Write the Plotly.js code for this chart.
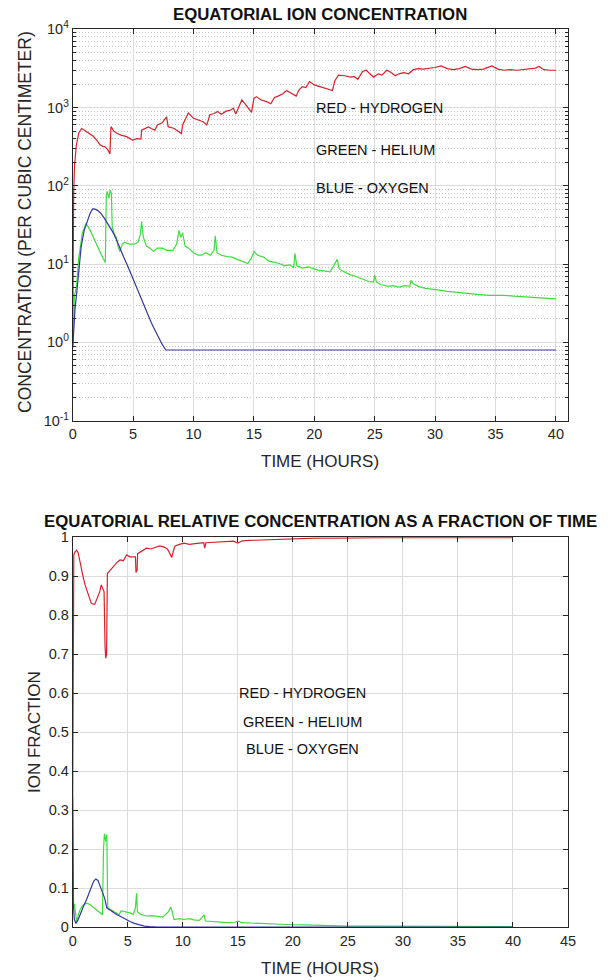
<!DOCTYPE html>
<html>
<head>
<meta charset="utf-8">
<script src="https://cdn.plot.ly/plotly-3.0.1.min.js"></script>
<style>
html,body{margin:0;padding:0;background:#fff;}
#chart{width:608px;height:980px;}
</style>
</head>
<body>
<div id="chart"></div>
<script>
// ---------- Top panel: ion concentration (per cubic centimeter) ----------
const hydrogenTime = [0,0.03,0.08,0.15,0.3,0.5,0.74,1.0,1.3,1.7,2.0,2.26,2.5,2.67,2.9,3.08,3.17,3.4,3.64,4.0,4.46,4.96,5.3,5.65,5.7,6.0,6.26,6.5,6.8,7.0,7.4,7.77,7.9,8.4,8.7,9.0,9.1,9.57,10.0,10.4,10.8,11.1,11.36,11.7,12.0,12.3,12.7,13.0,13.3,13.5,13.7,14.0,14.3,14.6,14.8,15.0,15.2,15.6,16.0,16.4,16.7,17.0,17.4,17.7,18.1,18.5,18.7,19.0,19.3,19.6,20.0,20.5,21.0,21.5,21.7,22.0,22.5,23.0,23.3,23.6,24.0,24.3,24.6,24.9,25.3,25.6,26.0,26.3,26.7,27.0,27.4,27.8,28.2,28.6,29.0,29.5,30.0,30.5,31.0,31.5,32.0,32.5,33.0,33.5,34.0,34.7,35.2,35.7,36.2,36.8,37.3,37.8,38.3,38.6,39.0,39.5,40.0];
const hydrogenConc = [1,20,80,180,330,470,540,510,470,430,380,335,320,316,290,255,570,500,470,445,425,385,400,395,515,540,565,540,515,600,640,760,570,540,500,465,600,850,730,690,660,600,810,840,890,820,900,920,980,830,1000,1250,1100,950,870,1300,1380,1250,1200,1120,1350,1400,1500,1650,1500,1400,1650,1850,1800,2150,1950,1850,1750,1650,2200,2600,2550,2450,2500,2300,2900,3000,2700,2450,2700,2600,3000,2850,2550,2700,2800,2700,3050,3150,3100,3150,3250,3400,3150,3050,3150,3350,3100,3050,3100,3400,3100,3000,3050,3000,3050,3100,3200,3350,3050,3000,3000];

const heliumTime = [0,0.05,0.15,0.3,0.5,0.8,1.1,1.4,1.8,2.2,2.5,2.7,2.78,2.85,3.0,3.1,3.2,3.27,3.45,3.6,3.75,3.9,4.1,4.3,4.7,5.1,5.4,5.6,5.7,5.85,6.1,6.4,6.7,7.0,7.4,7.8,8.3,8.6,8.8,8.95,9.1,9.3,9.6,10.0,10.4,10.7,11.0,11.4,11.7,11.8,11.95,12.3,12.8,13.2,13.6,14.0,14.5,14.8,15.0,15.3,15.8,16.2,16.7,17.1,17.5,18.0,18.3,18.4,18.55,19.0,19.5,20.0,20.3,20.8,21.3,21.6,21.9,22.05,22.2,22.6,23.0,23.5,24.0,24.5,24.9,25.0,25.15,25.5,26.1,26.5,27.0,27.5,27.9,28.0,28.2,28.6,29.2,29.8,30.2,31.0,31.5,32.5,33.5,34.5,35.7,36.5,37.5,38.5,39.3,40.0];
const heliumConc = [0.9,2,4,5,12,25,33,28,20,15,12,10.5,75,85,70,88,80,30,24,22,17,14.5,18,19,18,18,19,24,35,22,17,16,14.5,16,16,15,15,18,27,22,25,17,16,14,13,13,14,13,15,23,14,13,12.5,12.3,11.5,11,10.2,12,14.5,13,12.3,11,10.5,10.2,9.5,9.8,9.0,13.7,9.5,8.9,9.2,8.6,8.4,8.2,8.0,9.5,11.5,8.8,8.4,7.8,7.3,6.9,6.4,6.0,5.9,7.2,5.9,5.5,5.2,5.3,5.1,5.3,5.2,6.2,5.6,5.2,4.9,4.8,4.7,4.5,4.4,4.2,4.1,4.0,4.0,3.9,3.8,3.7,3.6,3.6];

const oxygenTime = [0,0.1,0.2,0.3,0.5,0.7,0.95,1.2,1.45,1.68,1.9,2.1,2.3,2.6,2.9,3.13,3.3,3.6,3.9,4.2,4.57,4.9,5.2,5.5,5.85,6.2,6.5,6.8,7.1,7.4,7.7,40];
const oxygenConc = [0.85,1.6,2.8,3.8,8,16.7,27,36,45,51,50,48,45,39,33,29,26,21,16,12.5,9.3,7,5.3,4.2,3.2,2.3,1.8,1.44,1.15,0.95,0.8,0.8];

// log-axis tick labels of the top panel
const concTickVals = [0.1, 1, 10, 100, 1000, 10000];
const concTickText = ['10<sup>-1</sup>', '10<sup>0</sup>', '10<sup>1</sup>', '10<sup>2</sup>', '10<sup>3</sup>', '10<sup>4</sup>'];

// ---------- Bottom panel: ion fraction ----------
const hFracTime = [0,0.03,0.1,0.2,0.36,0.5,0.67,0.9,1.1,1.27,1.5,1.7,2.0,2.24,2.45,2.6,2.7,2.85,2.94,3.0,3.08,3.15,3.4,3.7,4.0,4.3,4.6,4.9,5.2,5.5,5.7,5.75,5.85,5.9,6.3,6.7,7.1,7.5,7.9,8.3,8.6,8.8,9.0,9.15,9.3,9.7,10.1,10.6,11.0,11.5,11.9,12.0,12.1,12.7,13.3,14.0,14.6,15.0,15.4,16,17,18,19,20,21,22,24,26,28,30,35,40];
const hFrac = [0.33,0.90,0.955,0.962,0.967,0.96,0.94,0.905,0.88,0.865,0.845,0.83,0.828,0.843,0.86,0.878,0.868,0.86,0.72,0.69,0.70,0.907,0.915,0.925,0.935,0.942,0.94,0.955,0.95,0.95,0.95,0.91,0.915,0.958,0.965,0.972,0.97,0.975,0.978,0.975,0.97,0.96,0.948,0.965,0.978,0.982,0.985,0.982,0.984,0.985,0.986,0.972,0.986,0.987,0.988,0.988,0.99,0.985,0.991,0.992,0.993,0.994,0.996,0.996,0.997,0.998,0.998,0.999,0.999,0.999,0.999,0.999];

const heFracTime = [0,0.03,0.08,0.15,0.25,0.36,0.5,0.67,0.9,1.27,1.6,2.0,2.4,2.7,2.8,2.88,3.0,3.1,3.18,3.5,3.9,4.2,4.4,4.8,5.2,5.5,5.7,5.8,5.88,6.2,6.7,7.2,7.6,8.2,8.7,8.9,9.05,9.2,9.7,10.1,10.6,11.0,11.5,11.95,12.05,12.6,13.3,14.0,14.7,15.1,15.3,16,17,18,19,20,21,22,23,25,28,30,33,36,40];
const heFrac = [0.335,0.07,0.05,0.06,0.035,0.014,0.03,0.045,0.056,0.062,0.058,0.049,0.04,0.032,0.2,0.24,0.22,0.238,0.05,0.045,0.038,0.032,0.042,0.04,0.037,0.033,0.05,0.087,0.04,0.033,0.029,0.03,0.028,0.026,0.04,0.052,0.04,0.02,0.022,0.02,0.022,0.019,0.018,0.032,0.016,0.015,0.014,0.012,0.013,0.016,0.012,0.011,0.009,0.008,0.007,0.0065,0.006,0.005,0.004,0.003,0.003,0.003,0.002,0.002,0.002];

const oFracTime = [0,0.05,0.15,0.3,0.5,0.7,1.0,1.27,1.5,1.7,1.9,2.1,2.3,2.5,2.7,2.9,3.1,3.3,3.6,4.0,4.4,4.8,5.2,5.6,6.0,6.5,7.0,7.7,10,15,20,25,30,35,40];
const oFrac = [0.33,0.06,0.02,0.01,0.02,0.036,0.055,0.072,0.09,0.105,0.118,0.124,0.12,0.105,0.09,0.075,0.05,0.046,0.04,0.033,0.027,0.02,0.015,0.01,0.006,0.003,0.0015,0.0008,0.0008,0.0006,0.0006,0.0004,0.0003,0.0003,0.0002];

const topTitle = 'EQUATORIAL ION CONCENTRATION';
const bottomTitle = 'EQUATORIAL RELATIVE CONCENTRATION AS A FRACTION OF TIME';
const xTitle = 'TIME (HOURS)';
const topYTitle = 'CONCENTRATION (PER CUBIC CENTIMETER)';
const bottomYTitle = 'ION FRACTION';
const keyLabels = ['RED - HYDROGEN', 'GREEN - HELIUM', 'BLUE - OXYGEN'];

const RED = '#d4222a', GREEN = '#3fdc3f', BLUE = '#3636a0';
const FONT = 'Liberation Sans, Arial, Helvetica, sans-serif';
const INK = '#262626';

function line(x, y, color, xa, ya) {
  return {x: x, y: y, type: 'scatter', mode: 'lines', xaxis: xa, yaxis: ya,
          line: {color: color, width: 1.2}, hoverinfo: 'skip'};
}

const traces = [
  line(hydrogenTime, hydrogenConc, RED, 'x', 'y'),
  line(heliumTime, heliumConc, GREEN, 'x', 'y'),
  line(oxygenTime, oxygenConc, BLUE, 'x', 'y'),
  line(hFracTime, hFrac, RED, 'x2', 'y2'),
  line(heFracTime, heFrac, GREEN, 'x2', 'y2'),
  line(oFracTime, oFrac, BLUE, 'x2', 'y2')
];

const W = 608, H = 980;
const px2x = v => v / W;
const py2y = v => 1 - v / H;

const common = {
  showgrid: true, gridcolor: '#dcdcdc', gridwidth: 1, zeroline: false,
  showline: true, linecolor: INK, linewidth: 1, mirror: 'ticks',
  ticks: 'inside', ticklen: 5, tickcolor: INK, tickwidth: 1,
  tickfont: {family: FONT, size: 14.5, color: INK}, fixedrange: true
};

const layout = {
  width: W, height: H, margin: {l: 0, r: 0, t: 0, b: 0},
  paper_bgcolor: '#ffffff', plot_bgcolor: '#ffffff', showlegend: false,
  font: {family: FONT, color: INK},
  xaxis: Object.assign({}, common, {domain: [px2x(72.7), px2x(568)], anchor: 'y', range: [0, 41], tick0: 0, dtick: 5}),
  yaxis: Object.assign({}, common, {domain: [py2y(420.7), py2y(29.3)], anchor: 'x', type: 'log', range: [-1, 4],
    tickmode: 'array', tickvals: concTickVals, ticktext: concTickText,
    minor: {dtick: 'D1', showgrid: true, griddash: '1px,2px', gridcolor: '#c4c4c4', gridwidth: 1, ticks: 'inside', ticklen: 3, tickcolor: INK}}),
  xaxis2: Object.assign({}, common, {domain: [px2x(72.7), px2x(568)], anchor: 'y2', range: [0, 45], tick0: 0, dtick: 5}),
  yaxis2: Object.assign({}, common, {domain: [py2y(927.3), py2y(537.3)], anchor: 'x2', range: [0, 1], tick0: 0, dtick: 0.1}),
  annotations: [
    {text: '<b>' + topTitle + '</b>', xref: 'paper', yref: 'paper', x: px2x(320.4), y: py2y(15), xanchor: 'center', yanchor: 'middle', showarrow: false, font: {family: FONT, size: 16.8, color: '#111'}},
    {text: '<b>' + bottomTitle + '</b>', xref: 'paper', yref: 'paper', x: px2x(320.4), y: py2y(521.7), xanchor: 'center', yanchor: 'middle', showarrow: false, font: {family: FONT, size: 16.8, color: '#111'}},
    {text: xTitle, xref: 'paper', yref: 'paper', x: px2x(320.4), y: py2y(461.5), xanchor: 'center', yanchor: 'middle', showarrow: false, font: {family: FONT, size: 17, color: INK}},
    {text: xTitle, xref: 'paper', yref: 'paper', x: px2x(320.4), y: py2y(968), xanchor: 'center', yanchor: 'middle', showarrow: false, font: {family: FONT, size: 17, color: INK}},
    {text: topYTitle, xref: 'paper', yref: 'paper', x: px2x(25), y: py2y(222), xanchor: 'center', yanchor: 'middle', textangle: -90, showarrow: false, font: {family: FONT, size: 17.5, color: INK}},
    {text: bottomYTitle, xref: 'paper', yref: 'paper', x: px2x(34), y: py2y(732), xanchor: 'center', yanchor: 'middle', textangle: -90, showarrow: false, font: {family: FONT, size: 17, color: INK}},
    {text: keyLabels[0], xref: 'x', yref: 'y', x: 20, y: 3, xanchor: 'left', yanchor: 'middle', showarrow: false, font: {family: FONT, size: 14.5, color: '#111'}},
    {text: keyLabels[1], xref: 'x', yref: 'y', x: 20, y: 2.46, xanchor: 'left', yanchor: 'middle', showarrow: false, font: {family: FONT, size: 14.5, color: '#111'}},
    {text: keyLabels[2], xref: 'x', yref: 'y', x: 20, y: 1.97, xanchor: 'left', yanchor: 'middle', showarrow: false, font: {family: FONT, size: 14.5, color: '#111'}},
    {text: keyLabels[0], xref: 'x2', yref: 'y2', x: 20.9, y: 0.6, xanchor: 'center', yanchor: 'middle', showarrow: false, font: {family: FONT, size: 14.5, color: '#111'}},
    {text: keyLabels[1], xref: 'x2', yref: 'y2', x: 20.9, y: 0.526, xanchor: 'center', yanchor: 'middle', showarrow: false, font: {family: FONT, size: 14.5, color: '#111'}},
    {text: keyLabels[2], xref: 'x2', yref: 'y2', x: 20.9, y: 0.457, xanchor: 'center', yanchor: 'middle', showarrow: false, font: {family: FONT, size: 14.5, color: '#111'}}
  ]
};

Plotly.newPlot('chart', traces, layout, {displayModeBar: false, staticPlot: true});
</script>
</body>
</html>
